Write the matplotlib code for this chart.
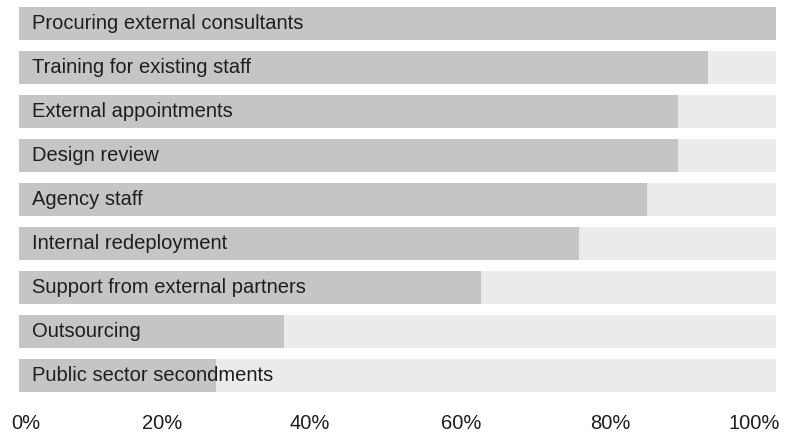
import matplotlib.pyplot as plt
from matplotlib.transforms import ScaledTranslation

categories = [
    "Procuring external consultants",
    "Training for existing staff",
    "External appointments",
    "Design review",
    "Agency staff",
    "Internal redeployment",
    "Support from external partners",
    "Outsourcing",
    "Public sector secondments",
]
shares = [100, 91, 87, 87, 83, 74, 61, 35, 26]
tick_values = [0, 20, 40, 60, 80, 100]
tick_labels = ["0%", "20%", "40%", "60%", "80%", "100%"]

plt.rcParams["font.family"] = ["Liberation Sans", "DejaVu Sans"]

fig = plt.figure(figsize=(8, 4.33), dpi=100)
ax = fig.add_axes([19 / 800, 41 / 433, 757 / 800, 385 / 433])

ys = list(range(len(categories)))
ax.barh(ys, [100] * len(ys), height=0.75, color="#ebebeb", zorder=1)
ax.barh(ys, shares, height=0.75, color="#c5c5c5", zorder=2)

for y, name in zip(ys, categories):
    ax.annotate(name, xy=(0, y), xytext=(13, 0), textcoords="offset pixels",
                ha="left", va="center", fontsize=14.5, color="#1e1e1e", zorder=3)

ax.set_xlim(0, 100)
ax.set_ylim(len(ys) - 1 + 0.375, -0.375)
ax.set_yticks([])
ax.set_xticks(tick_values)
ax.set_xticklabels(tick_labels, fontsize=14.5, color="#1e1e1e")
ax.tick_params(axis="x", length=0, pad=16)

# labels are spread edge to edge rather than centred on their ticks
shift_px = [7, -8, -12, -12, -14, -22]
for lab, dx in zip(ax.get_xticklabels(), shift_px):
    lab.set_transform(lab.get_transform() + ScaledTranslation(dx / 100, 0, fig.dpi_scale_trans))

for side in ax.spines.values():
    side.set_visible(False)

fig.savefig("out.png", dpi=100)
plt.close(fig)
